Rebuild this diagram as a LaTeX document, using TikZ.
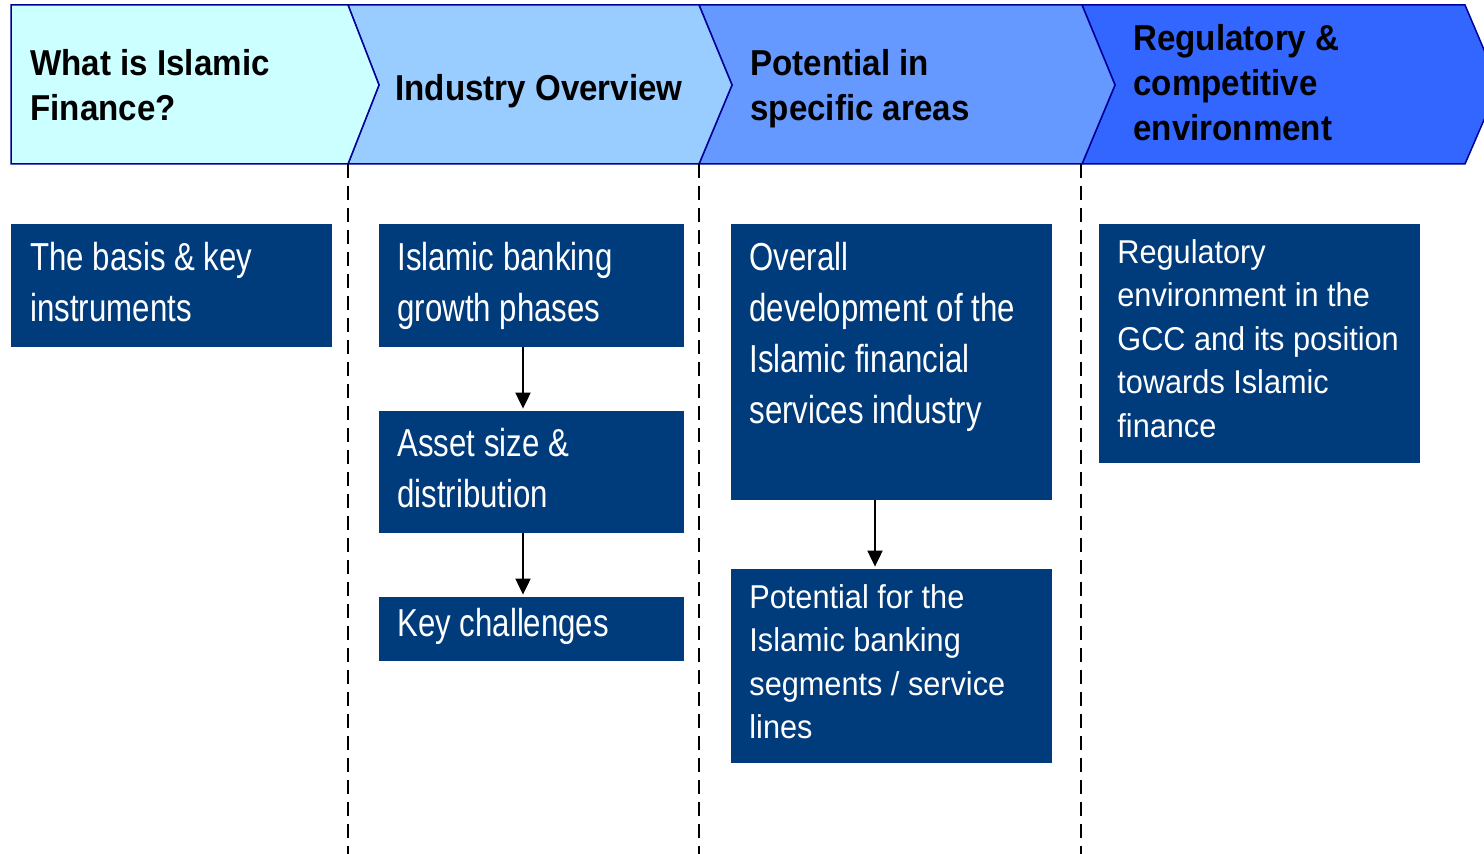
\documentclass[tikz,border=0pt]{standalone}
\usepackage{fontspec}
\setmainfont{Liberation Sans}
\newfontfamily\hdrfont[FakeStretch=0.92]{Liberation Sans}
\newfontfamily\bigfont[FakeStretch=0.8]{Liberation Sans}
\newfontfamily\smallfont[FakeStretch=0.93]{Liberation Sans}
\usepackage{tikz}
\usetikzlibrary{arrows.meta}
\usetikzlibrary{fit}
\definecolor{chevA}{HTML}{CCFFFF}
\definecolor{chevB}{HTML}{99CCFF}
\definecolor{chevC}{HTML}{6699FF}
\definecolor{chevD}{HTML}{3366FF}
\definecolor{navy}{HTML}{000099}
\definecolor{boxblue}{HTML}{003B7C}

\begin{document}
\begin{tikzpicture}[x=0.5pt, y=-0.5pt,
    chev/.style={draw=navy, line width=0.75pt, line join=miter},
    blk/.style={fill=boxblue, draw=none, inner sep=0pt},
    hdr/.style={anchor=north west, inner sep=0pt, align=left, font=\hdrfont\bfseries\fontsize{18}{22.5}\selectfont},
    bigtxt/.style={anchor=north west, inner sep=0pt, align=left, text=white, font=\bigfont\fontsize{19.5}{25.5}\selectfont},
    smalltxt/.style={anchor=north west, inner sep=0pt, align=left, text=white, font=\smallfont\fontsize{16.5}{21.75}\selectfont},
    sep/.style={dash pattern=on 7pt off 4pt, line width=0.9pt},
    flow/.style={-{Triangle[width=7.5pt,length=8pt]}, line width=1pt, shorten >=1pt}]

    \useasboundingbox (0,0) rectangle (1484,854);

    % header chevrons
    \begin{scope}
        \clip (0,0) rectangle (1484,854);
        \filldraw[chev, fill=chevD] (1082,5) -- (1465,5) -- (1499,85) -- (1465,164) -- (1082,164) -- (1115,85) -- cycle;
        \filldraw[chev, fill=chevC] (699,5) -- (1082,5) -- (1115,85) -- (1082,164) -- (699,164) -- (732,85) -- cycle;
        \filldraw[chev, fill=chevB] (348,5) -- (699,5) -- (732,85) -- (699,164) -- (348,164) -- (379,85) -- cycle;
        \filldraw[chev, fill=chevA] (11,5) -- (348,5) -- (379,85) -- (348,164) -- (11,164) -- cycle;
    \end{scope}

    \node[hdr] (whatis) at (30,43.5) {\strut What is Islamic\\Finance?};
    \node[hdr] (overview) at (395,68.5) {\strut Industry Overview};
    \node[hdr] (potential) at (750,43.5) {\strut Potential in\\specific areas};
    \node[hdr] (regulatory) at (1133,18.5) {\strut Regulatory \&\\competitive\\environment};

    % column separators
    \foreach \x in {348,699,1081}
        \draw[sep] (\x,164) -- (\x,854);

    % content boxes
    \node[blk, fit={(11,224) (332,347)}] (basis) {};
    \node[blk, fit={(379,224) (684,347)}] (growth) {};
    \node[blk, fit={(379,411) (684,533)}] (asset) {};
    \node[blk, fit={(379,597) (684,661)}] (challenges) {};
    \node[blk, fit={(731,224) (1052,500)}] (overall) {};
    \node[blk, fit={(731,569) (1052,763)}] (segments) {};
    \node[blk, fit={(1099,224) (1420,463)}] (regenv) {};

    \node[bigtxt] (basistxt) at (30,234.3) {\strut The basis \& key\\instruments};
    \node[bigtxt] (growthtxt) at (397,234.3) {\strut Islamic banking\\growth phases};
    \node[bigtxt] (assettxt) at (397,420.3) {\strut Asset size \&\\distribution};
    \node[bigtxt] (challengestxt) at (397,600.3) {\strut Key challenges};
    \node[bigtxt] (overalltxt) at (749,234.3) {\strut Overall\\development of the\\Islamic financial\\services industry};
    \node[smalltxt] (segmentstxt) at (749,577.5) {\strut Potential for the\\Islamic banking\\segments / service\\lines};
    \node[smalltxt] (regenvtxt) at (1117,232.5) {\strut Regulatory\\environment in the\\GCC and its position\\towards Islamic\\finance};

    \draw[flow] ([xshift=-4.25pt]growth.south) -- ([xshift=-4.25pt]asset.north);
    \draw[flow] ([xshift=-4.25pt]asset.south) -- ([xshift=-4.25pt]challenges.north);
    \draw[flow] ([xshift=-8.25pt]overall.south) -- ([xshift=-8.25pt]segments.north);
\end{tikzpicture}
\end{document}
